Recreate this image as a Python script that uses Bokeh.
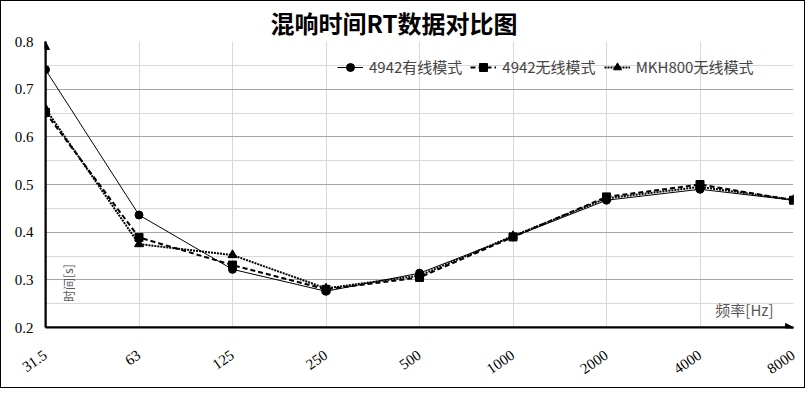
from bokeh.plotting import figure
from bokeh.models import (FixedTicker, Arrow, NormalHead, Label, Legend, LegendItem, Range1d)
from bokeh.embed import file_html
from bokeh.resources import INLINE

# ---- data ----
freqs = ["31.5", "63", "125", "250", "500", "1000", "2000", "4000", "8000"]
wired_4942 = [0.741, 0.436, 0.322, 0.276, 0.314, 0.390, 0.467, 0.490, 0.467]
wireless_4942 = [0.651, 0.389, 0.331, 0.280, 0.305, 0.390, 0.474, 0.500, 0.467]
wireless_mkh800 = [0.659, 0.375, 0.352, 0.282, 0.309, 0.392, 0.471, 0.495, 0.468]
y_ticks = [0.2, 0.3, 0.4, 0.5, 0.6, 0.7, 0.8]
y_minor = [0.25, 0.35, 0.45, 0.55, 0.65, 0.75]
series_names = ["4942有线模式", "4942无线模式", "MKH800无线模式"]
title_text = "混响时间RT数据对比图"
x_title = "频率[Hz]"
y_title = "时间[s]"

x = list(range(len(freqs)))

p = figure(width=805, height=388, output_backend="svg", toolbar_location=None,
           x_range=Range1d(0, len(freqs) - 1), y_range=Range1d(y_ticks[0], y_ticks[-1]),
           min_border_left=44, min_border_right=13, min_border_top=39, min_border_bottom=62)
p.styles = {"border": "1px solid black"}
p.outline_line_color = None
p.background_fill_color = "white"
p.border_fill_color = "white"

p.title.text = title_text
p.title.align = "left"
p.title.offset = 225
p.title.text_font = "Noto Sans CJK SC"
p.title.text_font_size = "24px"
p.title.text_font_style = "bold"
p.title.text_color = "black"
p.title.standoff = 3

# grids
p.xgrid.ticker = FixedTicker(ticks=x)
p.xgrid.grid_line_color = "#d9d9d9"
p.ygrid.ticker = FixedTicker(ticks=y_ticks, minor_ticks=y_minor)
p.ygrid.grid_line_color = "#a6a6a6"
p.ygrid.minor_grid_line_color = "#d9d9d9"

# axes
p.xaxis.ticker = FixedTicker(ticks=x)
p.xaxis.major_label_overrides = {i: f for i, f in enumerate(freqs)}
p.xaxis.major_label_orientation = 0.6
p.xaxis.major_label_standoff = 20
p.yaxis.ticker = FixedTicker(ticks=y_ticks)
p.yaxis.major_label_standoff = 6
for ax in (p.xaxis[0], p.yaxis[0]):
    ax.axis_line_color = "black"
    ax.axis_line_width = 2
    ax.major_tick_line_color = None
    ax.minor_tick_line_color = None
    ax.major_label_text_font = "Liberation Serif"
    ax.major_label_text_font_size = "15px"
    ax.major_label_text_color = "black"

# series
r1 = p.line(x, wired_4942, line_color="black", line_width=1)
m1 = p.scatter(x, wired_4942, marker="circle", size=8, color="black")
r2 = p.line(x, wireless_4942, line_color="black", line_width=2, line_dash="5 3")
m2 = p.scatter(x, wireless_4942, marker="square", size=8, color="black")
r3 = p.line(x, wireless_mkh800, line_color="black", line_width=2, line_dash="2 1")
m3 = p.scatter(x, wireless_mkh800, marker="triangle", size=9, color="black")

legend = Legend(items=[LegendItem(label=series_names[0], renderers=[r1, m1]),
                       LegendItem(label=series_names[1], renderers=[r2, m2]),
                       LegendItem(label=series_names[2], renderers=[r3, m3])],
                orientation="horizontal",
                background_fill_alpha=0, border_line_color=None,
                label_text_font="Noto Sans CJK SC", label_text_font_size="15px",
                glyph_width=26, spacing=8, margin=0, padding=0, label_standoff=6)
p.add_layout(legend, "center")
legend.location = (292, 250)

# axis arrows
p.add_layout(Arrow(end=NormalHead(size=8, fill_color="black", line_color="black"),
                   x_start=p.x_range.start, y_start=p.y_range.start,
                   x_end=p.x_range.start, y_end=p.y_range.end,
                   line_width=2, line_color="black"))
p.add_layout(Arrow(end=NormalHead(size=8, fill_color="black", line_color="black"),
                   x_start=p.x_range.start, y_start=p.y_range.start,
                   x_end=p.x_range.end, y_end=p.y_range.start,
                   line_width=2, line_color="black"))

p.add_layout(Label(x=p.x_range.end, y=p.y_range.start, text=x_title, text_align="right",
                   x_offset=-20, y_offset=8, text_font="Noto Sans CJK SC",
                   text_font_size="15px", text_color="#595959"))
p.add_layout(Label(x=p.x_range.start, y=0.293, text=y_title, angle=1.5708,
                   text_align="center", x_offset=31, text_font="Noto Sans CJK SC",
                   text_font_size="12px", text_color="#595959"))

open("out.html", "w").write(file_html(p, INLINE))
